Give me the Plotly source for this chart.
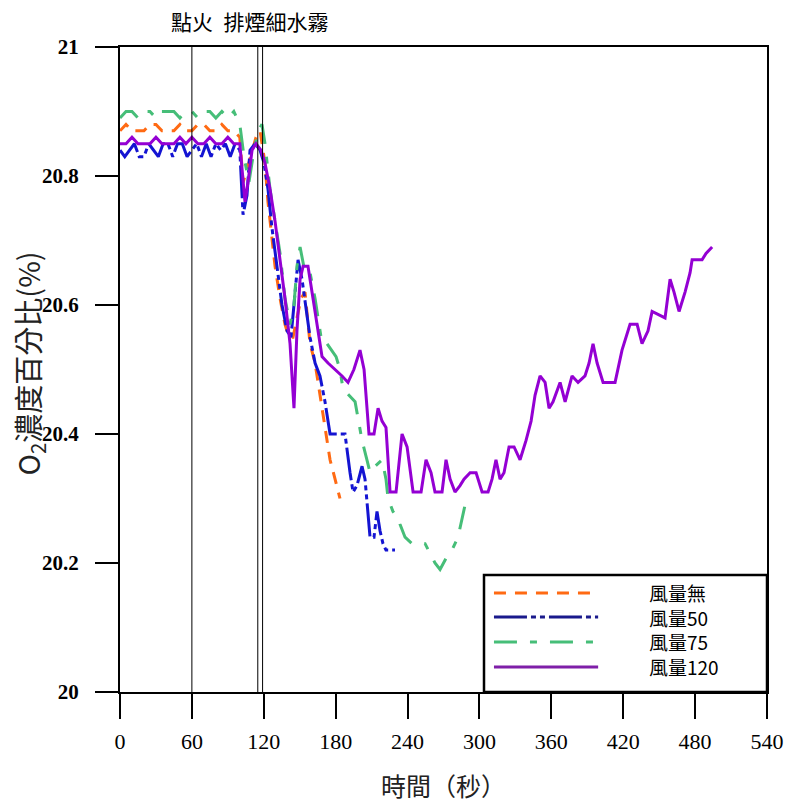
import plotly.graph_objects as go

# ---------------- data ----------------
series_names = ["風量無", "風量50", "風量75", "風量120"]

t_none = [0, 5, 10, 15, 20, 25, 30, 35, 40, 45, 50, 55, 60, 65, 70, 75, 80, 85, 90, 95, 100,
          102.7, 106, 110.2, 113.5, 116.9, 119.4, 121, 123.5, 126.8, 129.4, 133.6, 137.7, 141.1,
          144.4, 147.7, 151.1, 154.4, 158.6, 162.8, 165.3, 166.9, 169.4, 172.8, 175.3, 179.5, 182, 183.6]
v_none = [20.87, 20.88, 20.87, 20.87, 20.87, 20.88, 20.88, 20.87, 20.87, 20.87, 20.88, 20.87, 20.87,
          20.88, 20.88, 20.87, 20.87, 20.88, 20.87, 20.87, 20.86,
          20.79, 20.81, 20.84, 20.86, 20.87, 20.84, 20.82, 20.76, 20.70, 20.66, 20.61, 20.57, 20.55,
          20.55, 20.58, 20.61, 20.62, 20.54, 20.51, 20.48, 20.46, 20.43, 20.39, 20.36, 20.33, 20.31, 20.30]

t_50 = [0, 4, 8, 12, 16, 20, 24, 28, 32, 36, 40, 44, 48, 52, 56, 60, 64, 68, 72, 76, 80, 84, 88, 92, 96, 100,
        102.7, 106, 108.5, 112.7, 116.9, 120.2, 123.5, 126.8, 131, 135.2, 139.4, 142.7, 145.2, 148.6,
        151.9, 155.3, 158.6, 162.8, 166.9, 171.1, 175.3, 177.8, 187.8, 192, 194.5, 197.8, 202, 204.5,
        207, 208.7, 212, 214.5, 217, 219.5, 222, 229.5]
v_50 = [20.84, 20.83, 20.84, 20.85, 20.83, 20.83, 20.85, 20.84, 20.83, 20.85, 20.85, 20.83, 20.85, 20.85,
        20.83, 20.84, 20.85, 20.83, 20.85, 20.83, 20.85, 20.84, 20.85, 20.83, 20.85, 20.84,
        20.74, 20.77, 20.84, 20.85, 20.84, 20.82, 20.78, 20.72, 20.66, 20.60, 20.56, 20.55, 20.60, 20.67,
        20.64, 20.59, 20.55, 20.51, 20.49, 20.45, 20.40, 20.40, 20.40, 20.34, 20.31, 20.32, 20.35, 20.33,
        20.28, 20.24, 20.24, 20.28, 20.25, 20.23, 20.22, 20.22]

t_75 = [0, 5, 10, 15, 20, 25, 30, 35, 40, 45, 50, 55, 60, 65, 70, 75, 80, 85, 90, 95, 100,
        103.5, 107.6, 111, 115.2, 118.5, 121, 125.2, 129.4, 133.6, 137.7, 141.9, 145.2, 147.7, 150.3,
        154.4, 158.6, 162.8, 165.3, 168.6, 172.8, 180.3, 183.6, 186.1, 196.2, 200.3, 202, 206.1, 208.7,
        212.9, 218.7, 222, 223.7, 227.8, 232, 233.7, 237.9, 243.7, 254.6, 262.9, 267.1, 272.9, 277.1,
        282.1, 285.5, 288]
v_75 = [20.89, 20.90, 20.90, 20.89, 20.90, 20.90, 20.89, 20.90, 20.90, 20.90, 20.89, 20.90, 20.90, 20.89,
        20.90, 20.90, 20.89, 20.90, 20.89, 20.90, 20.88,
        20.83, 20.79, 20.83, 20.87, 20.88, 20.85, 20.78, 20.73, 20.68, 20.61, 20.57, 20.60, 20.66, 20.69,
        20.65, 20.65, 20.61, 20.58, 20.54, 20.54, 20.52, 20.50, 20.47, 20.45, 20.41, 20.39, 20.36, 20.34,
        20.35, 20.36, 20.33, 20.30, 20.28, 20.27, 20.26, 20.24, 20.23, 20.23, 20.20, 20.19, 20.21, 20.22,
        20.24, 20.27, 20.29]

t_120 = [0, 5, 10, 15, 20, 25, 30, 35, 40, 45, 50, 55, 60, 65, 70, 75, 80, 85, 90, 95, 100,
         104.3, 106.8, 110.2, 113.5, 117.7, 121, 125.2, 129.4, 133.6, 137.7, 141.9, 145.2, 147.7, 150.3,
         152.8, 156.9, 161.1, 165.3, 168.6, 173.6, 179.5, 185.3, 190.3, 195.2, 200.3, 203.7, 207.8, 212,
         215.4, 218.7, 222, 225.4, 230.4, 235.4, 239.6, 244.6, 251.3, 255.4, 259.6, 262.9, 268.8, 272.1,
         275.5, 279.6, 283.8, 287.1, 292.2, 297.2, 302.2, 307.2, 310.5, 313.8, 317.2, 320.5, 324.7, 328.9,
         333.9, 338.9, 343.1, 346.4, 350.6, 354.8, 358.1, 361.4, 367.3, 371.5, 377.3, 382.3, 388.1, 391.5,
         394.8, 398.2, 403.2, 413.2, 419, 425.7, 431.6, 435.7, 440.7, 444.1, 454.9, 459.1, 462.4, 466.6,
         471.6, 475.8, 477.5, 485.8, 489.1, 494.2]
v_120 = [20.85, 20.85, 20.86, 20.85, 20.85, 20.85, 20.86, 20.85, 20.85, 20.85, 20.86, 20.85, 20.86, 20.85,
         20.85, 20.86, 20.85, 20.85, 20.86, 20.85, 20.85,
         20.76, 20.79, 20.84, 20.85, 20.84, 20.82, 20.78, 20.73, 20.67, 20.61, 20.54, 20.44, 20.56, 20.64,
         20.66, 20.66, 20.61, 20.56, 20.52, 20.51, 20.50, 20.49, 20.48, 20.50, 20.53, 20.50, 20.40, 20.40,
         20.44, 20.42, 20.41, 20.31, 20.31, 20.40, 20.38, 20.31, 20.31, 20.36, 20.34, 20.31, 20.31, 20.36,
         20.33, 20.31, 20.32, 20.33, 20.34, 20.34, 20.31, 20.31, 20.33, 20.36, 20.33, 20.34, 20.38, 20.38,
         20.36, 20.39, 20.42, 20.46, 20.49, 20.48, 20.44, 20.45, 20.48, 20.45, 20.49, 20.48, 20.49, 20.51,
         20.54, 20.51, 20.48, 20.48, 20.53, 20.57, 20.57, 20.54, 20.56, 20.59, 20.58, 20.64, 20.62, 20.59,
         20.62, 20.65, 20.67, 20.67, 20.68, 20.69]

event_times = [60, 115, 119]          # 點火 / 排煙 / 細水霧 markers
event_label = "點火\u2002排煙細水霧"

x_ticks = [0, 60, 120, 180, 240, 300, 360, 420, 480, 540]
y_ticks = [20, 20.2, 20.4, 20.6, 20.8, 21]
y_tick_text = ["20", "20.2", "20.4", "20.6", "20.8", "21"]

# ---------------- style ----------------
colors = ["#FF6A13", "#1414D2", "#46BE78", "#9400D3"]
dashes = ["12px,9px", "33px,4px,5px,4px,5px,4px", "23px,13px,7px,13px", "solid"]
legend_colors = ["#FF6A13", "#1A1A8C", "#46BE78", "#7F1FA8"]

CJK = "Noto Sans CJK TC"
SERIF = "Liberation Serif"

fig = go.Figure()
for name, t, v, c, d in zip(series_names, [t_none, t_50, t_75, t_120],
                            [v_none, v_50, v_75, v_120], colors, dashes):
    fig.add_trace(go.Scatter(x=t, y=v, mode="lines", name=name, showlegend=False,
                             line=dict(color=c, width=3, dash=d, shape="linear")))

# event lines
for et in event_times:
    fig.add_shape(type="line", xref="x", yref="paper", x0=et, x1=et, y0=0, y1=1,
                  line=dict(color="black", width=1))

fig.add_annotation(text=event_label, xref="paper", yref="paper", x=0.201, y=1.04,
                   showarrow=False, font=dict(family=CJK, size=21, color="black"),
                   xanchor="center", yanchor="middle")

# custom legend box
lx0, lx1, ly0, ly1 = 0.5626, 1.0, 0.0, 0.1814
fig.add_shape(type="rect", xref="paper", yref="paper", x0=lx0, x1=lx1, y0=ly0, y1=ly1,
              line=dict(color="black", width=2.5), fillcolor="white", layer="above")
row_y = [0.1535, 0.1163, 0.0775, 0.0388]
for ry, c, d in zip(row_y, legend_colors, dashes):
    fig.add_shape(type="line", xref="paper", yref="paper", x0=0.578, x1=0.739, y0=ry, y1=ry,
                  line=dict(color=c, width=3, dash=d), layer="above")
fig.add_annotation(text="<br>".join(series_names), xref="paper", yref="paper",
                   x=0.815, y=sum(row_y) / len(row_y), showarrow=False,
                   xanchor="left", yanchor="middle", align="left",
                   font=dict(family=CJK + ", " + SERIF, size=19, color="black"))

# axis titles
fig.add_annotation(text="O<sub>2</sub>濃度百分比(%)", xref="paper", yref="paper",
                   x=-0.14, y=0.51, textangle=-90, showarrow=False,
                   xanchor="center", yanchor="middle",
                   font=dict(family=CJK, size=29, color="#222"))
fig.add_annotation(text="時間（秒）", xref="paper", yref="paper", x=0.5, y=-0.144,
                   showarrow=False, xanchor="center", yanchor="middle",
                   font=dict(family=CJK, size=25, color="#222"))

fig.update_layout(
    width=786, height=805,
    margin=dict(l=120, r=19, t=47, b=113),
    paper_bgcolor="white", plot_bgcolor="white",
    showlegend=False,
)
fig.update_xaxes(range=[0, 540], tickvals=x_ticks, ticks="outside", ticklen=25, tickwidth=2,
                 tickcolor="black", showline=True, linecolor="black", linewidth=2, mirror=True,
                 showgrid=False, zeroline=False, ticklabelstandoff=4, automargin=False,
                 tickfont=dict(family=SERIF, size=22, color="black"))
fig.update_yaxes(range=[20, 21], tickvals=y_ticks,
                 ticktext=["<b>" + s + "</b>" for s in y_tick_text],
                 ticks="outside", ticklen=23, tickwidth=2, tickcolor="black",
                 showline=True, linecolor="black", linewidth=2, mirror=True,
                 showgrid=False, zeroline=False, ticklabelstandoff=12, automargin=False,
                 tickfont=dict(family=SERIF, size=21, color="black"))

fig.write_html("out.html")
